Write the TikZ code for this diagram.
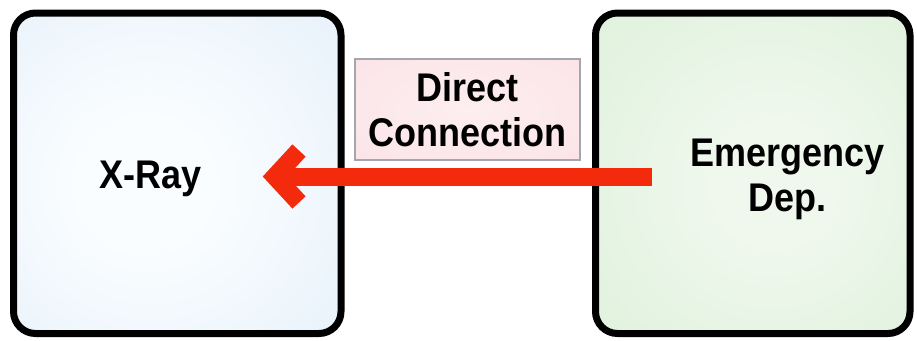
\documentclass[tikz,border=0pt]{standalone}
\usepackage{fontspec}
\setmainfont{Liberation Sans}
\newfontfamily\diagfont[FakeStretch=0.9]{Liberation Sans}
\definecolor{xblueout}{RGB}{214,231,246}
\definecolor{xbluein}{RGB}{250,253,255}
\definecolor{edgreenout}{RGB}{208,236,204}
\definecolor{edgreenin}{RGB}{240,248,238}
\definecolor{pinkout}{RGB}{249,218,223}
\definecolor{pinkin}{RGB}{253,238,240}
\definecolor{pinkborder}{RGB}{165,165,175}
\definecolor{arrowred}{RGB}{243,42,12}
\pgfdeclareradialshading{softblue}{\pgfpoint{-6bp}{-2bp}}{color(0bp)=(xbluein); color(10bp)=(xbluein); color(66bp)=(xblueout)}
\pgfdeclareradialshading{softgreen}{\pgfpoint{4bp}{-2bp}}{color(0bp)=(edgreenin); color(8bp)=(edgreenin); color(66bp)=(edgreenout)}
\pgfdeclareradialshading{softpink}{\pgfpoint{0bp}{0bp}}{color(0bp)=(pinkin); color(72bp)=(pinkout)}
\begin{document}
\begin{tikzpicture}[x=1pt,y=-1pt,
  unitbox/.style={draw=black, line width=7pt, rounded corners=22pt, inner sep=0pt},
  lbl/.style={inner sep=0pt, align=center, text=black,
    font={\diagfont\fontsize{40}{45}\selectfont\bfseries}},
  linkbox/.style={draw=pinkborder, line width=1.3pt, shading=softpink, inner sep=0pt,
    minimum width=225pt, minimum height=101pt},
  arrowline/.style={draw=arrowred, line width=18pt, line cap=butt}]
  \useasboundingbox (0,0) rectangle (917,340);
  % units
  \node[unitbox, shading=softblue, minimum width=327.5pt, minimum height=320.5pt] (xr) at (177.25,173.25) {};
  \node[unitbox, shading=softgreen, minimum width=314.5pt, minimum height=320.5pt] (ed) at (752.75,173.25) {};
  \node[lbl, anchor=base] (xrt) at (151,188) {X-Ray};
  \node[lbl] (edt) at (787.5,179) {Emergency\\Dep.};
  % link label
  \node[linkbox] (dcbox) at (467.5,109.5) {};
  \node[lbl] (dc) at (467.5,110) {Direct\\Connection};
  % connector
  \coordinate (as) at (652,176.5);
  \coordinate (av) at (275,176.5);
  \draw[arrowline] (as) -- (av);
  \draw[arrowline, line join=miter] ([shift={(24,-26)}]av) -- (av) -- ([shift={(24,26)}]av);
\end{tikzpicture}
\end{document}
